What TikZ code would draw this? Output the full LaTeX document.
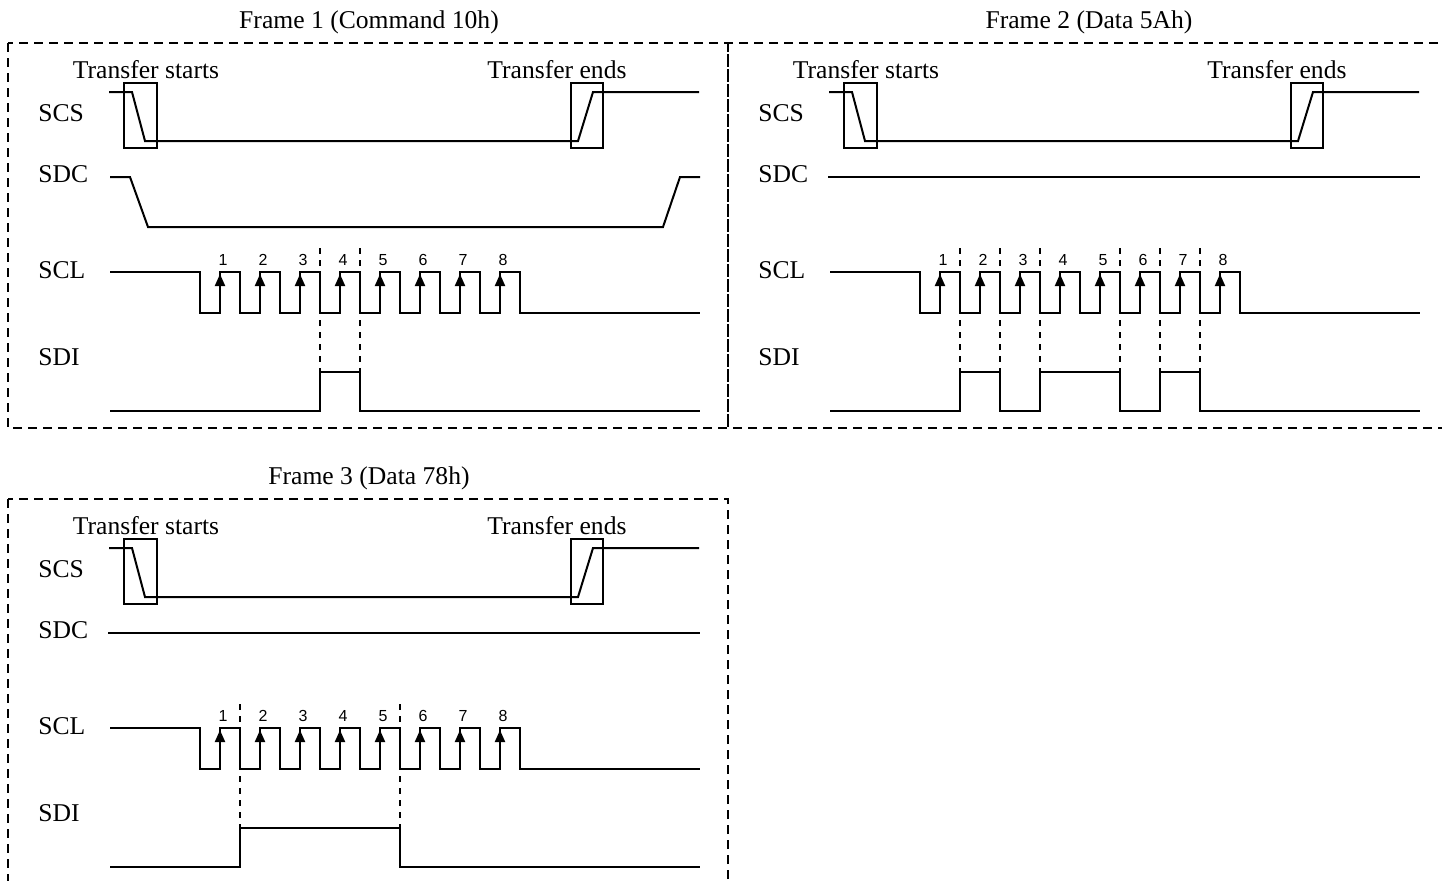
\documentclass[tikz,border=0pt]{standalone}
\usepackage{fontspec}
\setmainfont{Liberation Serif}
\newfontfamily\digitfont{Liberation Sans}
\usetikzlibrary{arrows.meta}

\tikzset{
  wave/.style={line width=1pt},
  framebox/.style={line width=1pt,dash pattern=on 4.5pt off 3pt},
  cut/.style={line width=1pt,dash pattern=on 3pt off 3pt},
  sig/.style={inner sep=0pt,font=\fontsize{12.8}{15}\selectfont},
  bitno/.style={inner sep=0pt,font=\digitfont\fontsize{8}{9}\selectfont},
  rise/.style={wave,-{Triangle[length=6pt,width=5pt]}}
}

\newcommand{\drawframe}[1]{%
  \draw[framebox] (0,0) rectangle (720,385);
  \node[sig] (title) at (361,-21) {#1};
  \node[sig] (start) at (138,27) {Transfer starts};
  \node[sig] (end) at (549,27) {Transfer ends};
  \node[sig,anchor=west] (scs) at (30,70) {SCS};
  \node[sig,anchor=west] (sdc) at (30,131) {SDC};
  \node[sig,anchor=west] (scl) at (30,227) {SCL};
  \node[sig,anchor=west] (sdi) at (30,314) {SDI};
  \draw[wave] (101,49) -- (124,49) -- (137,98) -- (570,98) -- (585,49) -- (691,49);
  \draw[wave] (116,40) rectangle (149,105);
  \draw[wave] (563,40) rectangle (595,105);
  \draw[wave] (102,229) -- (192,229)
    \foreach \k in {0,...,7} { -- ++(0,41) -- ++(20,0) -- ++(0,-41) -- ++(20,0) }
    -- ++(0,41) -- (692,270);
  \foreach \k in {1,...,8} {
    \draw[rise] ({172+40*\k},270) -- ({172+40*\k},231);
    \node[bitno] (bit\k) at ({175+40*\k},217) {\k};
  }
}

\begin{document}
\begin{tikzpicture}[x=0.5pt,y=-0.5pt]
  \clip (0,0) rectangle (1442,880);

  \begin{scope}[shift={(8,43)},name prefix=f1-]
    \drawframe{Frame 1 (Command 10h)}
    \draw[wave] (102,134) -- (122,134) -- (140,184) -- (655,184) -- (672,134) -- (692,134);
    \foreach \x in {312,352}
      \draw[cut] (\x,205) -- (\x,329);
    \draw[wave] (102,368) -- (312,368) -- (312,329) -- (352,329) -- (352,368) -- (692,368);
  \end{scope}

  \begin{scope}[shift={(728,43)},name prefix=f2-]
    \drawframe{Frame 2 (Data 5Ah)}
    \draw[wave] (100,134) -- (692,134);
    \foreach \x in {232,272,312,392,432,472}
      \draw[cut] (\x,205) -- (\x,329);
    \draw[wave] (102,368) -- (232,368) -- (232,329) -- (272,329) -- (272,368)
      -- (312,368) -- (312,329) -- (392,329) -- (392,368)
      -- (432,368) -- (432,329) -- (472,329) -- (472,368) -- (692,368);
  \end{scope}

  \begin{scope}[shift={(8,499)},name prefix=f3-]
    \drawframe{Frame 3 (Data 78h)}
    \draw[wave] (100,134) -- (692,134);
    \foreach \x in {232,392}
      \draw[cut] (\x,205) -- (\x,329);
    \draw[wave] (102,368) -- (232,368) -- (232,329) -- (392,329) -- (392,368) -- (692,368);
  \end{scope}
\end{tikzpicture}
\end{document}
